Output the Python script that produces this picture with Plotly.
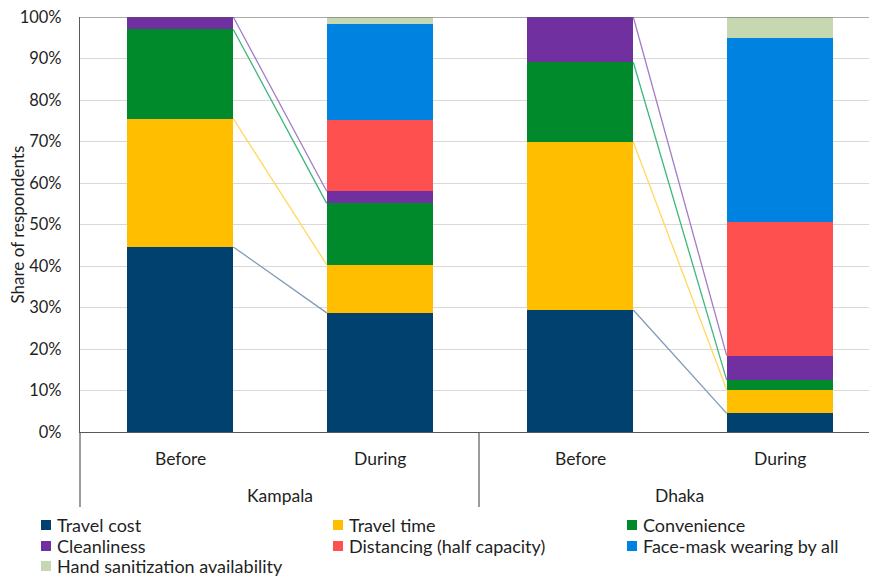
import plotly.graph_objects as go

# ---------------- data ----------------
bars = ["Before", "During", "Before", "During"]
cities = ["Kampala", "Dhaka"]
series_names = ["Travel cost", "Travel time", "Convenience", "Cleanliness",
                "Distancing (half capacity)", "Face-mask wearing by all",
                "Hand sanitization availability"]
travel_cost = [44.6, 28.7, 29.4, 4.5]
travel_time = [30.9, 11.6, 40.5, 5.7]
convenience = [21.5, 14.8, 19.2, 2.3]
cleanliness = [3.0, 2.9, 10.9, 5.9]
distancing = [0.0, 17.1, 0.0, 32.3]
face_mask = [0.0, 23.2, 0.0, 44.3]
hand_sanit = [0.0, 1.7, 0.0, 5.0]
y_ticks = [0, 10, 20, 30, 40, 50, 60, 70, 80, 90, 100]

colors = ["#00416F", "#FFBF00", "#008A2B", "#7030A0", "#FF5050", "#0083E0", "#C5D8B1"]
line_colors = ["#7F9BB7", "#FFD95E", "#3DB77A", "#A47CC6"]

series = [travel_cost, travel_time, convenience, cleanliness, distancing, face_mask, hand_sanit]

FONT = "Lato"
TXT = "#1F1F1F"
xpos = [0, 1, 2, 3]
bw = 0.533

fig = go.Figure()
for name, vals, col in zip(series_names, series, colors):
    fig.add_trace(go.Bar(x=xpos, y=vals, name=name, marker=dict(color=col, line=dict(width=0)),
                         width=bw, showlegend=False))

# series lines (connect tops of stacked segments, Before -> During within each city)
cum = []
run = [0, 0, 0, 0]
for vals in series:
    run = [a + b for a, b in zip(run, vals)]
    cum.append(list(run))
for i in range(4):
    for g in (0, 2):
        fig.add_trace(go.Scatter(x=[xpos[g] + bw / 2, xpos[g + 1] - bw / 2],
                                 y=[cum[i][g], cum[i][g + 1]], mode="lines",
                                 line=dict(color=line_colors[i], width=1.3),
                                 showlegend=False, hoverinfo="skip"))

L, R, T, B = 80, 0, 17, 145
W, H = 869, 577
pw = W - L - R
ph = H - T - B
unit = 200.0  # px per category
xr = [-0.5, -0.5 + pw / unit]

def px_x(p):
    return (p - L) / pw

def px_y(p):
    return (H - B - p) / ph

shapes = []
# top border
shapes.append(dict(type="line", xref="paper", yref="y", x0=0, x1=1, y0=100, y1=100,
                   line=dict(color="#595959", width=1.2)))
# category dividers
for xp in [80, 479]:
    shapes.append(dict(type="line", xref="paper", yref="paper", x0=px_x(xp), x1=px_x(xp),
                       y0=px_y(432), y1=px_y(507), line=dict(color="#595959", width=1.2)))

annotations = []
for xv, lab in zip(xpos, bars):
    annotations.append(dict(x=xv, y=px_y(458), xref="x", yref="paper", text=lab, showarrow=False,
                            font=dict(family=FONT, size=17.5, color=TXT), xanchor="center", yanchor="middle"))
for xc, lab in zip([279.5, 679.5], cities):
    annotations.append(dict(x=px_x(xc), y=px_y(495), xref="paper", yref="paper", text=lab, showarrow=False,
                            font=dict(family=FONT, size=17.5, color=TXT), xanchor="center", yanchor="middle"))
# y title
annotations.append(dict(x=px_x(17), y=0.5, xref="paper", yref="paper", text="Share of respondents",
                        textangle=-90, showarrow=False, font=dict(family=FONT, size=17, color=TXT),
                        xanchor="center", yanchor="middle"))

# manual legend
col_x = [41, 333, 627]
row_y = [525, 546, 566]
for k, (name, col) in enumerate(zip(series_names, colors)):
    r, c = divmod(k, 3)
    x0 = col_x[c]
    yc = row_y[r]
    shapes.append(dict(type="rect", xref="paper", yref="paper",
                       x0=px_x(x0), x1=px_x(x0 + 10), y0=px_y(yc + 5), y1=px_y(yc - 5),
                       fillcolor=col, line=dict(width=0)))
    annotations.append(dict(x=px_x(x0 + 14), y=px_y(yc), xref="paper", yref="paper", text=name,
                            showarrow=False, font=dict(family=FONT, size=18, color=TXT),
                            xanchor="left", yanchor="middle"))

fig.update_layout(
    width=W, height=H,
    margin=dict(l=L, r=R, t=T, b=B),
    paper_bgcolor="white", plot_bgcolor="white",
    barmode="stack",
    bargap=0,
    shapes=shapes, annotations=annotations,
    xaxis=dict(range=xr, showticklabels=False, showgrid=False, zeroline=False,
               showline=True, linecolor="#595959", linewidth=1.2, fixedrange=True),
    yaxis=dict(range=[0, 100], tickvals=y_ticks, ticktext=[f"{v}%" for v in y_ticks],
               showgrid=True, gridcolor="#D9D9D9", gridwidth=1, zeroline=False,
               showline=True, linecolor="#595959", linewidth=1.2,
               ticks="", ticklabelstandoff=14,
               tickfont=dict(family=FONT, size=16.5, color=TXT)),
    font=dict(family=FONT, color=TXT),
)

fig.write_html("out.html")
